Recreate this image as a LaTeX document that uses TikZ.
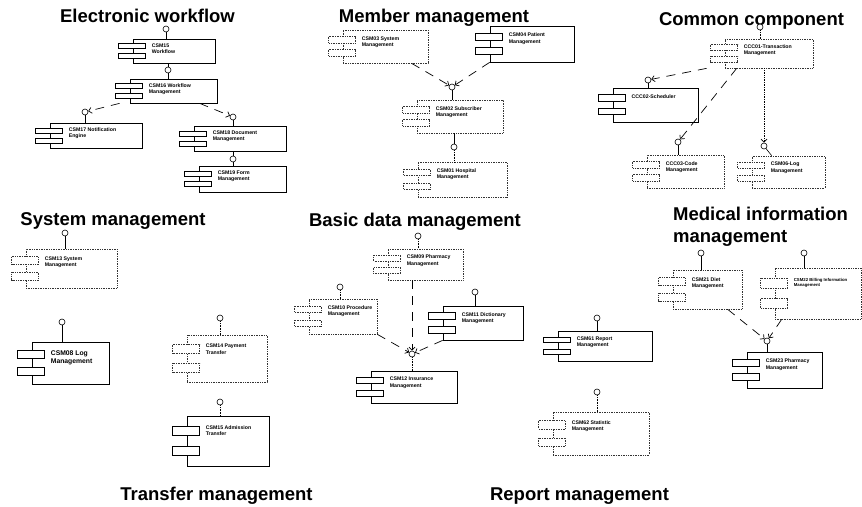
\documentclass[tikz,border=0pt]{standalone}
\usepackage{fontspec}
\setmainfont{Liberation Sans}
\usetikzlibrary{arrows.meta}

% Fonts for group titles and component captions
\newcommand\titlefont{\fontsize{18.5}{22}\selectfont\bfseries}
\newcommand\lblfont{\fontsize{5.2}{6.2}\selectfont\bfseries}
\newcommand\lblbigfont{\fontsize{6.8}{8}\selectfont\bfseries}
\newcommand\lblsmallfont{\fontsize{4.3}{5.6}\selectfont\bfseries}

\tikzset{
  body/.style={draw=black, line width=0.7pt, fill=white, inner sep=0pt},
  faint/.style={densely dotted, draw=black!80},
  port/.style={draw=black, line width=0.7pt, fill=white},
  iface/.style={circle, draw=black, line width=0.6pt, fill=white, minimum size=6pt, inner sep=0pt},
  stem/.style={line width=0.6pt},
  dotstem/.style={line width=0.6pt, densely dotted},
  dep/.style={line width=0.7pt, dash pattern=on 9pt off 7pt, -{Straight Barb[length=3pt,width=6pt]}},
  depdot/.style={line width=0.7pt, densely dotted, -{Straight Barb[length=3pt,width=6pt]}},
  ttl/.style={font=\titlefont, inner sep=0pt},
  lbl/.style={font=\lblfont, inner sep=0pt, align=left},
}

% UML component: body box with two ports on its left edge and a caption
% [#1] caption style, #2 box style, #3 name, #4 x1, #5 y1, #6 x2, #7 y2, #8 caption
\newcommand\umlcomp[8][]{%
  \pgfmathsetmacro\cmpW{#6-#4}%
  \pgfmathsetmacro\cmpH{#7-#5}%
  \pgfmathsetmacro\cmpP{max(5,0.19*\cmpH)}%
  \pgfmathsetmacro\cmpA{0.21*\cmpH}%
  \pgfmathsetmacro\cmpB{0.61*\cmpH}%
  \pgfmathsetmacro\cmpT{0.2*\cmpH}%
  \node[body,#2,minimum width=\cmpW pt,minimum height=\cmpH pt] (#3) at ({(#4+#6)/2},{(#5+#7)/2}) {};
  \draw[port,#2] ([xshift=-14pt,yshift=-\cmpA pt]#3.north west) rectangle ++(27,\cmpP);
  \draw[port,#2] ([xshift=-14pt,yshift=-\cmpB pt]#3.north west) rectangle ++(27,\cmpP);
  \node[lbl,#1,anchor=north west] (#3t) at ([xshift=19pt,yshift=-\cmpT pt]#3.north west) {#8};
}

\begin{document}
\begin{tikzpicture}[x=1pt,y=-1pt]
\fill[white] (0,0) rectangle (862,506);
\useasboundingbox (0,0) rectangle (862,506);

% ---------- group titles ----------
\node[ttl,anchor=base] (tEW) at (147.5,23) {Electronic workflow};
\node[ttl,anchor=base] (tMM) at (434,22) {Member management};
\node[ttl,anchor=base] (tCC) at (751.5,25) {Common component};
\node[ttl,anchor=base] (tSM) at (113,225) {System management};
\node[ttl,anchor=base] (tBD) at (415,226) {Basic data management};
\node[ttl,anchor=north west,align=left] (tMI) at (673,207) {Medical information\\management};
\node[ttl,anchor=base] (tTM) at (216.5,500) {Transfer management};
\node[ttl,anchor=base] (tRM) at (579.5,500) {Report management};

% ---------- electronic workflow ----------
\umlcomp{}{ew1}{133}{39}{215}{63}{CSM15\\Workflow}
\umlcomp{}{ew2}{130}{79}{217}{103}{CSM16 Workflow\\Management}
\umlcomp{}{ew3}{50}{123}{142}{148}{CSM17 Notification\\Engine}
\umlcomp{}{ew4}{194}{126}{286}{151}{CSM18 Document\\Management}
\umlcomp{}{ew5}{199}{166}{286}{192}{CSM19 Form\\Management}
\node[iface] (ew1i) at (166,29) {};
\node[iface] (ew2i) at (168,70) {};
\node[iface] (ew3i) at (85,112) {};
\node[iface] (ew4i) at (233,117) {};
\node[iface] (ew5i) at (233,159) {};
\draw[stem] (ew1i.south) -- (ew1i.south |- ew1.north);
\draw[stem] (ew2i.south) -- (ew2i.south |- ew2.north);
\draw[stem] (ew2i.north) -- (ew2i.north |- ew1.south);
\draw[stem] (ew3i.south) -- (ew3i.south |- ew3.north);
\draw[stem] (ew4i.south) -- (ew4i.south |- ew4.north);
\draw[stem] (ew5i.south) -- (ew5i.south |- ew5.north);
\draw[stem] (ew5i.north) -- (ew5i.north |- ew4.south);
\draw[dep] ([xshift=-10pt]ew2.south west) -- (ew3i);
\draw[dep] ([xshift=70pt]ew2.south west) -- (ew4i);

% ---------- member management ----------
\umlcomp{faint}{m1}{343}{30}{428}{63}{CSM03 System\\Management}
\umlcomp{}{m2}{490}{26}{574}{62}{CSM04 Patient\\Management}
\umlcomp{faint}{m3}{417}{100}{503}{133}{CSM02 Subscriber\\Management}
\umlcomp{faint}{m4}{418}{162}{507}{197}{CSM01 Hospital\\Management}
\node[iface] (m3i) at (452,87) {};
\node[iface] (m4i) at (454,147) {};
\draw[stem] (m3i.south) -- (m3i.south |- m3.north);
\draw[dep] ([xshift=69pt]m1.south west) -- (m3i);
\draw[dep] (m2.south west) -- (m3i);
\draw[stem] (m4i.north) -- (m4i.north |- m3.south);
\draw[dotstem] (m4i.south) -- (m4i.south |- m4.north);

% ---------- common component ----------
\umlcomp{faint}{c1}{725}{39}{813}{68}{CCC01-Transaction\\Management}
\umlcomp{line width=1pt}{c2}{613}{88}{698}{122}{CCC02-Scheduler}
\umlcomp{faint}{c3}{647}{155}{724}{188}{CCC03-Code\\Management}
\umlcomp{faint}{c4}{752}{156}{825}{188}{CSM06-Log\\Management}
\node[iface] (c1i) at (760,27) {};
\node[iface] (c2i) at (648,80) {};
\node[iface] (c3i) at (678,142) {};
\node[iface] (c4i) at (764,146) {};
\draw[dotstem] (c1i.south) -- (c1i.south |- c1.north);
\draw[stem] (c2i.south) -- (c2i.south |- c2.north);
\draw[stem] (c3i.south) -- (c3i.south |- c3.north);
\draw[stem] (c4i) -- ([xshift=20pt]c4.north west);
\draw[dep] ([xshift=-18pt]c1.south west) -- (c2i);
\draw[dep] ([xshift=12pt]c1.south west) -- (c3i);
\draw[depdot] (c1.south -| c4i) -- (c4i);

% ---------- system management ----------
\umlcomp{faint}{s1}{26}{249}{117}{288}{CSM13 System\\Management}
\umlcomp[font=\lblbigfont]{}{s2}{32}{342}{109}{384}{CSM08 Log\\Management}
\node[iface] (s1i) at (65,233) {};
\node[iface] (s2i) at (62,322) {};
\draw[stem] (s1i.south) -- (s1i.south |- s1.north);
\draw[stem] (s2i.south) -- (s2i.south |- s2.north);

% ---------- transfer management ----------
\umlcomp{faint}{t1}{187}{335}{267}{382}{CSM14 Payment\\Transfer}
\umlcomp{}{t2}{187}{416}{269}{466}{CSM15 Admission\\Transfer}
\node[iface] (t1i) at (220,318) {};
\node[iface] (t2i) at (220,402) {};
\draw[dotstem] (t1i.south) -- (t1i.south |- t1.north);
\draw[dotstem] (t2i.south) -- (t2i.south |- t2.north);

% ---------- basic data management ----------
\umlcomp{faint}{b1}{388}{249}{463}{280}{CSM09 Pharmacy\\Management}
\umlcomp{faint}{b2}{309}{299}{377}{334}{CSM10 Procedure\\Management}
\umlcomp{}{b3}{443}{306}{523}{340}{CSM11 Dictionary\\Management}
\umlcomp{}{b4}{371}{371}{457}{403}{CSM12 Insurance\\Management}
\node[iface] (b1i) at (418,236) {};
\node[iface] (b2i) at (340,287) {};
\node[iface] (b3i) at (475,292) {};
\node[iface] (b4i) at (412,354) {};
\draw[dotstem] (b1i.south) -- (b1i.south |- b1.north);
\draw[dotstem] (b2i.south) -- (b2i.south |- b2.north);
\draw[stem] (b3i.south) -- (b3i.south |- b3.north);
\draw[dotstem] (b4i.south) -- (b4i.south |- b4.north);
\draw[dep] (b4i |- b1.south) -- (b4i);
\draw[dep] (b2.south east) -- (b4i);
\draw[dep] (b3.south west) -- (b4i);

% ---------- report management ----------
\umlcomp{}{r1}{558}{331}{652}{361}{CSM61 Report\\Management}
\umlcomp{faint}{r2}{553}{412}{649}{455}{CSM62 Statistic\\Management}
\node[iface] (r1i) at (597,318) {};
\node[iface] (r2i) at (597,392) {};
\draw[stem] (r1i.south) -- (r1i.south |- r1.north);
\draw[dotstem] (r2i.south) -- (r2i.south |- r2.north);

% ---------- medical information management ----------
\umlcomp{faint}{d1}{673}{270}{742}{309}{CSM21 Diet\\Management}
\umlcomp[font=\lblsmallfont]{faint}{d2}{775}{268}{861}{319}{CSM22 Billing Information\\Management}
\umlcomp{}{d3}{747}{352}{822}{388}{CSM23 Pharmacy\\Management}
\node[iface] (d1i) at (701,253) {};
\node[iface] (d2i) at (804,253) {};
\node[iface] (d3i) at (767,341) {};
\draw[stem] (d1i.south) -- (d1i.south |- d1.north);
\draw[stem] (d2i.south) -- (d2i.south |- d2.north);
\draw[stem] (d3i.south) -- (d3i.south |- d3.north);
\draw[dep] ([xshift=55pt]d1.south west) -- (d3i);
\draw[dep] ([xshift=7pt]d2.south west) -- (d3i);

\end{tikzpicture}
\end{document}
